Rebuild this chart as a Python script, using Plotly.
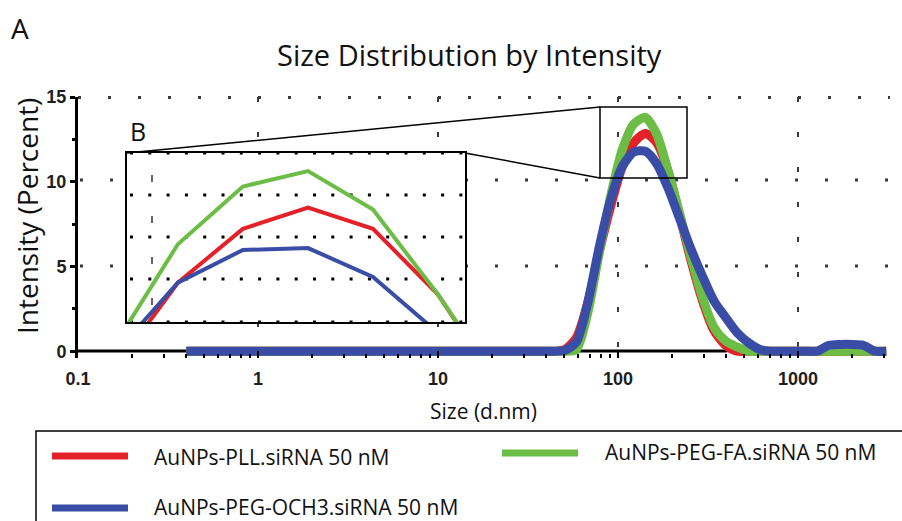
import plotly.graph_objects as go

# ---------------- data ----------------
sizes = [0.4, 0.4632, 0.5365, 0.6213, 0.7195, 0.8332, 0.9649, 1.117, 1.294, 1.499,
         1.736, 2.010, 2.328, 2.696, 3.122, 3.615, 4.187, 4.849, 5.615, 6.503,
         7.531, 8.721, 10.10, 11.70, 13.54, 15.69, 18.17, 21.04, 24.36, 28.21,
         32.67, 37.84, 43.82, 50.75, 58.77, 68.06, 78.82, 91.28, 105.7, 122.4,
         141.8, 164.2, 190.1, 220.2, 255.0, 295.3, 342.0, 396.1, 458.7, 531.2,
         615.1, 712.4, 825.0, 955.4, 1106, 1281, 1484, 1718, 1990, 2305,
         2669, 3091]

pll = [0, 0, 0, 0, 0, 0, 0, 0, 0, 0,
       0, 0, 0, 0, 0, 0, 0, 0, 0, 0,
       0, 0, 0, 0, 0, 0, 0, 0, 0, 0,
       0, 0, 0, 0.1, 0.8, 2.9, 5.9, 8.6, 10.9, 12.3,
       12.85, 12.3, 10.6, 8.0, 5.3, 2.95, 1.2, 0.35, 0, 0,
       0, 0, 0, 0, 0, 0, 0, 0, 0, 0,
       0, 0]

peg_fa = [0, 0, 0, 0, 0, 0, 0, 0, 0, 0,
          0, 0, 0, 0, 0, 0, 0, 0, 0, 0,
          0, 0, 0, 0, 0, 0, 0, 0, 0, 0,
          0, 0, 0, 0, 0.1, 2.3, 5.85, 9.2, 11.9, 13.4,
          13.8, 12.8, 10.6, 8.1, 5.5, 3.15, 1.4, 0.6, 0.25, 0,
          0, 0, 0, 0, 0, 0, 0, 0, 0, 0,
          0, 0]

peg_och3 = [0, 0, 0, 0, 0, 0, 0, 0, 0, 0,
            0, 0, 0, 0, 0, 0, 0, 0, 0, 0,
            0, 0, 0, 0, 0, 0, 0, 0, 0, 0,
            0, 0, 0, 0.05, 0.55, 2.9, 6.2, 9.0, 10.9, 11.75,
            11.8, 11.05, 9.6, 7.8, 6.0, 4.4, 2.95, 2.0, 1.1, 0.5,
            0.1, 0, 0, 0, 0, 0, 0.35, 0.4, 0.4, 0.35,
            0, 0]

series_names = ["AuNPs-PLL.siRNA 50 nM", "AuNPs-PEG-FA.siRNA 50 nM", "AuNPs-PEG-OCH3.siRNA 50 nM"]
series_colors = ["#E42128", "#6CBD45", "#3A4DA6"]
series_values = [pll, peg_fa, peg_och3]

x_tickvals = [0.1, 1, 10, 100, 1000]
x_ticktext = ["0.1", "1", "10", "100", "1000"]
y_tickvals = [0, 5, 10, 15]

# ---------------- geometry helpers ----------------
W, H = 902, 521
L, R, T, B = 78, 12, 97, 163
PW, PH = W - L - R, H - T - B


def fx(px):
    return (px - L) / PW


def fy(py):
    return (H - B - py) / PH


fig = go.Figure()

# main traces (smooth, thick)
for name, vals, col in zip(series_names, series_values, series_colors):
    fig.add_trace(go.Scatter(x=sizes, y=vals, mode="lines", name=name,
                             line=dict(color=col, width=9, shape="spline", smoothing=0.7),
                             xaxis="x", yaxis="y", showlegend=False, hoverinfo="skip"))
# inset traces (enlarged view of the peak, straight segments)
for name, vals, col in zip(series_names, series_values, series_colors):
    fig.add_trace(go.Scatter(x=sizes, y=vals, mode="lines", name=name,
                             line=dict(color=col, width=4),
                             xaxis="x2", yaxis="y2", showlegend=False, hoverinfo="skip"))

tickfont = dict(family="Liberation Sans", size=18, color="#1e1e1e", weight="bold")
txtfont = "Open Sans"

shapes = []
GRIDC = "#3a3a3a"
hdash = "3px,27px"
vdash = "5px,30px"
ins_x0, ins_x1, ins_y0, ins_y1 = 127, 465, 153, 322
# horizontal dotted gridlines (main), broken around inset
for py, segs in [(97.5, [(78, 890)]), (180, [(80, ins_x0), (ins_x1, 890)]), (266, [(80, ins_x0), (ins_x1, 890)])]:
    for a, b in segs:
        shapes.append(dict(type="line", xref="paper", yref="paper", x0=fx(a), x1=fx(b), y0=fy(py), y1=fy(py),
                           line=dict(color=GRIDC, width=3, dash=hdash), layer="below"))
# vertical dashed gridlines (main)
for px, segs in [(258, [(97, ins_y0), (ins_y1, 351)]), (438, [(97, ins_y0), (ins_y1, 351)]),
                 (618, [(97, 351)]), (798, [(97, 351)])]:
    for a, b in segs:
        shapes.append(dict(type="line", xref="paper", yref="paper", x0=fx(px), x1=fx(px), y0=fy(a), y1=fy(b),
                           line=dict(color=GRIDC, width=2, dash=vdash), layer="below"))
# inset dotted gridlines
for py in [ins_y0, 195, 237, 279, ins_y1]:
    shapes.append(dict(type="line", xref="paper", yref="paper", x0=fx(ins_x0 + 3), x1=fx(ins_x1), y0=fy(py), y1=fy(py),
                       line=dict(color="black", width=3, dash="3px,15.3px"), layer="below"))
shapes.append(dict(type="line", xref="paper", yref="paper", x0=fx(152), x1=fx(152), y0=fy(175), y1=fy(ins_y1),
                   line=dict(color="black", width=1.2, dash="7px,34px"), layer="below"))
# x axis line at zero
shapes.append(dict(type="line", xref="paper", yref="paper", x0=fx(78), x1=fx(727), y0=fy(351), y1=fy(351),
                   line=dict(color="black", width=3), layer="below"))
# zoom box + connectors
shapes.append(dict(type="rect", xref="paper", yref="paper", x0=fx(600), x1=fx(687), y0=fy(107), y1=fy(178),
                   line=dict(color="black", width=1.5), layer="above"))
shapes.append(dict(type="line", xref="paper", yref="paper", x0=fx(ins_x0), y0=fy(ins_y0), x1=fx(600), y1=fy(107),
                   line=dict(color="black", width=1.5), layer="above"))
shapes.append(dict(type="line", xref="paper", yref="paper", x0=fx(ins_x1), y0=fy(ins_y0), x1=fx(600), y1=fy(178),
                   line=dict(color="black", width=1.5), layer="above"))
# legend box
shapes.append(dict(type="rect", xref="paper", yref="paper", x0=fx(36), x1=fx(930), y0=fy(431), y1=fy(560),
                   line=dict(color="black", width=1.5), layer="above"))
leg_pos = [((52, 128, 456), (152, 457)), ((502, 578, 453), (603, 452)), ((52, 128, 508), (152, 507))]
annotations = []
for (lx0, lx1, ly), (tx, ty), name, col in zip([p[0] for p in leg_pos], [p[1] for p in leg_pos],
                                              series_names, series_colors):
    shapes.append(dict(type="line", xref="paper", yref="paper", x0=fx(lx0), x1=fx(lx1), y0=fy(ly), y1=fy(ly),
                       line=dict(color=col, width=7), layer="above"))
    annotations.append(dict(xref="paper", yref="paper", x=fx(tx), y=fy(ty), text=name, showarrow=False,
                            xanchor="left", yanchor="middle", font=dict(family=txtfont, size=21, color="#111")))

annotations += [
    dict(xref="paper", yref="paper", x=fx(20), y=fy(28), text="A", showarrow=False,
         xanchor="center", yanchor="middle", font=dict(family=txtfont, size=28, color="#111")),
    dict(xref="paper", yref="paper", x=fx(469), y=fy(55), text="Size Distribution by Intensity", showarrow=False,
         xanchor="center", yanchor="middle", font=dict(family=txtfont, size=29, color="#111")),
    dict(xref="paper", yref="paper", x=fx(27), y=fy(216), text="Intensity (Percent)", showarrow=False,
         textangle=-90, xanchor="center", yanchor="middle", font=dict(family=txtfont, size=28, color="#111")),
    dict(xref="paper", yref="paper", x=fx(483), y=fy(411), text="Size (d.nm)", showarrow=False,
         xanchor="center", yanchor="middle", font=dict(family=txtfont, size=21, color="#111")),
    dict(xref="paper", yref="paper", x=fx(138), y=fy(131), text="B", showarrow=False,
         xanchor="center", yanchor="middle", font=dict(family=txtfont, size=25, color="#111")),
]

fig.update_layout(
    width=W, height=H,
    margin=dict(l=L, r=R, t=T, b=B, pad=0),
    paper_bgcolor="white", plot_bgcolor="rgba(0,0,0,0)",
    showlegend=False,
    xaxis=dict(type="log", range=[-1, 3.511], domain=[0, 1], anchor="y",
               showgrid=False, zeroline=False, showline=False,
               tickvals=x_tickvals, ticktext=x_ticktext,
               ticks="inside", ticklen=7, tickwidth=2, tickcolor="black",
               tickfont=tickfont, ticklabelstandoff=8,
               minor=dict(ticks="inside", ticklen=4, tickwidth=1.5, tickcolor="black", dtick="D1", showgrid=False)),
    yaxis=dict(range=[-0.4, 15], domain=[0, 1], anchor="x",
               showgrid=False, zeroline=False, showline=True, linewidth=3, linecolor="black",
               tickvals=y_tickvals, ticks="outside", ticklen=5, tickwidth=3, tickcolor="black",
               tickfont=tickfont,
               minor=dict(ticks="outside", ticklen=3, tickwidth=3, tickcolor="black", dtick=2.5, tick0=0, showgrid=False)),
    xaxis2=dict(type="log", range=[1.9742, 2.3056], domain=[fx(ins_x0), fx(ins_x1)], anchor="y2",
                showgrid=False, showticklabels=False, ticks="", zeroline=False,
                showline=True, mirror=True, linecolor="black", linewidth=1.5),
    yaxis2=dict(range=[9.88, 14.27], domain=[fy(ins_y1), fy(ins_y0)], anchor="x2",
                showgrid=False, showticklabels=False, ticks="", zeroline=False,
                showline=True, mirror=True, linecolor="black", linewidth=1.5),
    shapes=shapes,
    annotations=annotations,
)

fig.write_html("out.html")
